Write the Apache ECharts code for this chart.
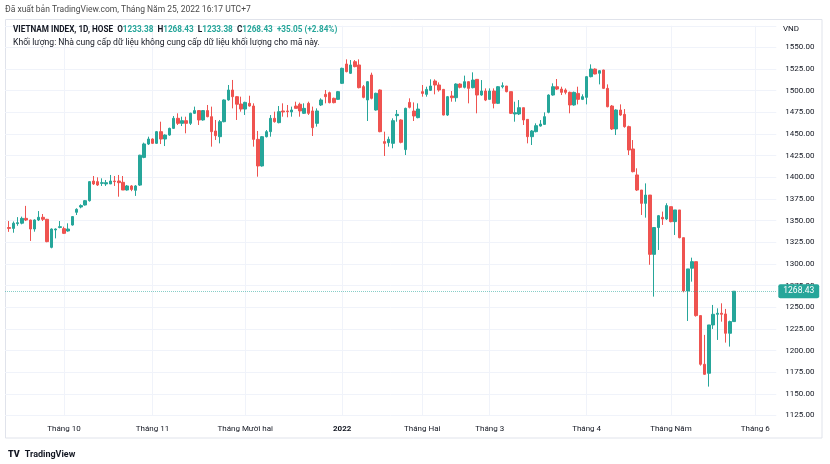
<!DOCTYPE html>
<html><head><meta charset="utf-8">
<script src="https://cdn.jsdelivr.net/npm/echarts@6/dist/echarts.min.js"></script>
<style>html,body{margin:0;padding:0;background:#fff;}#c{width:830px;height:464px;}</style>
</head><body><div id="c"></div>
<script>
// ---- trading days (categories) ----
const daysSep2021 = [14,15,16,17,20,21,22,23,24,27,28,29,30];
const daysOct2021 = [1,4,5,6,7,8,11,12,13,14,15,18,19,20,21,22,25,26,27,28,29];
const daysNov2021 = [1,2,3,4,5,8,9,10,11,12,15,16,17,18,19,22,23,24,25,26,29,30];
const daysDec2021 = [1,2,3,6,7,8,9,10,13,14,15,16,17,20,21,22,23,24,27,28,29,30,31];
const daysJan2022 = [4,5,6,7,10,11,12,13,14,17,18,19,20,21,24,25,26,27,28];
const daysFeb2022 = [7,8,9,10,11,14,15,16,17,18,21,22,23,24,25,28];
const daysMar2022 = [1,2,3,4,7,8,9,10,11,14,15,16,17,18,21,22,23,24,25,28,29,30,31];
const daysApr2022 = [1,4,5,6,7,8,12,13,14,15,18,19,20,21,22,25,26,27,28,29];
const daysMay2022 = [4,5,6,9,10,11,12,13,16,17,18,19,20,23,24,25];
const futureMay2022 = [26,27,30,31];
const futureJun2022 = [1,2,3,6,7,8];

// ---- OHLC values ----
const openP = [
1342.0,1341.0,1346.5,1347.0,1352.6,1350.7,1340.3,1350.7,1353.8,1351.5,1319.1,1339.2,1342.1,
1340.7,1338.0,1344.9,1359.6,1365.7,1368.0,1373.0,1395.7,1395.0,1393.0,1392.3,1392.3,1395.7,1395.7,1394.2,1385.3,1390.0,1385.0,1391.0,1423.0,1438.4,
1444.2,1439.2,1452.7,1444.2,1448.8,1456.5,1468.1,1462.3,1465.4,1462.3,1473.9,1477.0,1466.2,1477.0,1470.0,1453.5,1446.9,1464.2,1489.3,1500.8,1493.1,1484.6,
1478.8,1485.4,1482.3,1443.8,1413.1,1446.9,1452.7,1468.1,1463.1,1476.6,1476.6,1475.4,1482.3,1484.3,1473.9,1485.4,1476.6,1462.3,1483.5,1495.8,1497.7,1491.2,1490.0,
1508.5,1530.8,1520.1,1533.5,1529.7,1504.7,1489.3,1518.1,1477.7,1500.8,1441.2,1440.0,1439.2,1471.2,1466.2,1432.0,1486.5,1476.5,1468.9,
1498.9,1495.8,1500.4,1511.2,1506.6,1501.5,1471.9,1493.9,1491.9,1507.7,1503.9,1510.4,1503.5,1513.1,1495.0,1499.6,
1490.0,1499.6,1485.4,1504.6,1505.4,1498.9,1473.1,1473.1,1480.4,1466.9,1446.9,1452.7,1459.2,1461.1,1475.0,1495.0,1504.6,1501.9,1500.8,1498.1,1483.5,1496.9,1490.0,
1492.3,1516.2,1525.0,1520.1,1523.9,1502.7,1482.3,1455.8,1477.7,1472.7,1458.5,1432.7,1402.7,1385.3,1369.9,1379.5,1311.0,1342.0,1353.8,1351.9,
1366.1,1348.8,1362.3,1330.3,1268.7,1295.0,1302.6,1240.3,1184.1,1173.7,1229.5,1241.8,1243.0,1242.2,1219.9,1233.38
];
const closeP = [
1341.0,1347.0,1347.6,1352.6,1350.7,1340.3,1350.7,1353.8,1351.5,1325.7,1340.3,1340.3,1343.0,
1335.3,1340.3,1354.6,1363.0,1367.3,1373.0,1395.0,1392.3,1391.1,1393.8,1393.8,1395.7,1395.0,1393.8,1385.3,1390.0,1386.0,1390.0,1425.5,1438.5,1444.2,
1439.2,1452.7,1444.2,1448.8,1456.5,1468.1,1462.3,1465.4,1462.3,1473.9,1477.0,1466.2,1477.0,1470.0,1452.7,1448.1,1464.2,1489.3,1500.8,1493.1,1484.4,1478.8,
1486.5,1482.3,1443.8,1413.1,1446.9,1452.7,1468.1,1464.2,1475.8,1475.4,1475.8,1477.7,1479.6,1476.6,1479.6,1473.9,1457.3,1476.6,1489.3,1493.1,1486.2,1486.2,1498.9,
1525.8,1522.0,1529.7,1527.8,1503.5,1492.3,1510.4,1491.2,1497.0,1452.7,1439.2,1443.8,1465.4,1472.7,1440.4,1479.6,1480.8,1470.8,1478.8,
1496.9,1501.5,1505.4,1506.6,1500.8,1471.9,1493.1,1491.9,1507.7,1503.9,1510.4,1502.7,1512.3,1495.0,1499.6,1489.2,
1499.6,1485.4,1504.6,1505.8,1498.9,1473.9,1474.6,1480.4,1466.2,1446.9,1453.5,1459.6,1461.5,1470.0,1495.0,1504.6,1501.9,1498.1,1498.1,1483.5,1498.1,1490.0,1493.1,
1516.2,1525.0,1519.3,1523.1,1502.7,1481.5,1455.8,1477.7,1471.9,1458.5,1431.5,1406.5,1385.3,1369.9,1379.5,1311.0,1342.0,1355.7,1351.9,1367.3,
1348.8,1362.3,1330.3,1268.7,1294.2,1302.6,1240.3,1184.1,1172.5,1229.5,1241.8,1243.0,1241.8,1219.9,1233.38,1268.43
];
const lowP = [
1337.0,1336.0,1344.0,1345.7,1349.5,1326.5,1337.2,1349.5,1349.5,1325.0,1318.0,1329.5,1341.1,
1334.5,1337.2,1344.2,1356.5,1364.2,1367.3,1371.9,1391.1,1390.0,1390.0,1390.0,1392.3,1390.0,1377.6,1385.3,1384.6,1384.0,1378.5,1390.0,1422.0,1437.3,
1438.5,1438.5,1438.4,1436.1,1448.0,1455.8,1460.4,1459.2,1450.8,1460.4,1473.1,1460.4,1465.4,1469.3,1435.4,1443.1,1439.2,1463.5,1488.5,1479.6,1466.2,1475.8,
1472.0,1481.6,1435.4,1400.7,1412.3,1446.0,1446.9,1463.1,1462.3,1470.0,1469.3,1470.0,1479.6,1470.0,1473.1,1472.0,1447.7,1458.5,1482.3,1485.4,1485.4,1485.4,1489.3,
1507.7,1521.2,1519.3,1527.0,1502.7,1491.2,1465.0,1490.0,1477.0,1452.0,1424.6,1435.4,1433.5,1464.2,1439.2,1425.7,1479.6,1465.0,1468.1,
1493.1,1493.1,1499.6,1495.8,1498.9,1471.5,1470.8,1487.3,1487.3,1502.7,1502.7,1485.4,1502.7,1473.9,1494.2,1488.0,
1489.3,1479.6,1484.6,1502.7,1498.1,1473.1,1464.2,1471.9,1460.4,1439.2,1437.3,1451.9,1458.5,1460.4,1473.9,1494.2,1500.8,1495.0,1495.8,1473.9,1482.7,1484.2,1489.2,
1484.2,1515.4,1518.9,1507.3,1501.9,1480.8,1454.6,1448.8,1471.0,1457.3,1425.7,1405.7,1384.2,1356.5,1353.4,1299.0,1262.2,1316.1,1345.0,1350.7,
1348.0,1333.4,1329.6,1267.2,1234.1,1279.5,1239.1,1182.5,1172.0,1158.3,1224.9,1212.2,1233.3,1209.1,1204.5,1233.38
];
const highP = [
1349.5,1349.0,1354.0,1354.6,1367.0,1351.0,1351.5,1361.0,1357.6,1352.0,1341.0,1341.0,1349.5,
1343.0,1346.9,1355.3,1364.2,1368.8,1373.8,1395.5,1401.5,1400.0,1398.8,1396.9,1402.7,1401.5,1402.7,1401.5,1391.1,1391.0,1391.0,1426.0,1440.0,1446.9,
1445.0,1453.5,1464.2,1449.6,1457.3,1470.8,1473.9,1470.0,1470.0,1474.6,1481.6,1477.5,1477.7,1483.5,1481.6,1466.2,1466.2,1490.0,1506.6,1512.4,1493.9,1493.1,
1487.3,1494.2,1485.4,1453.5,1447.7,1454.6,1471.9,1475.8,1482.3,1485.4,1483.5,1481.6,1487.3,1486.2,1485.4,1487.3,1481.6,1479.6,1491.2,1500.8,1498.9,1492.0,1499.7,
1526.6,1536.2,1535.4,1535.4,1536.2,1506.6,1511.2,1520.8,1497.7,1501.5,1452.7,1447.0,1468.1,1477.7,1467.0,1480.4,1491.2,1486.5,1485.4,
1506.6,1504.6,1513.1,1513.1,1509.6,1502.0,1493.9,1499.6,1508.5,1508.5,1517.4,1510.8,1521.2,1513.5,1512.3,1502.7,
1502.7,1502.7,1505.4,1509.6,1505.4,1498.9,1487.3,1489.2,1480.4,1466.9,1454.6,1462.3,1466.1,1475.0,1495.8,1508.5,1513.5,1504.6,1502.7,1498.9,1498.9,1504.6,1495.8,
1516.9,1530.4,1525.8,1523.9,1524.2,1507.3,1483.5,1478.5,1484.2,1478.8,1459.6,1443.0,1410.4,1385.3,1393.0,1379.5,1342.0,1356.5,1360.4,1370.0,
1366.1,1362.3,1362.3,1330.3,1294.2,1307.2,1302.6,1240.3,1218.0,1229.5,1252.6,1248.7,1254.5,1248.0,1234.5,1268.43
];

// ---- axis tick labels ----
const tickMonths = ['2021-10','2021-11','2021-12','2022-01','2022-02','2022-03','2022-04','2022-05','2022-06'];
const tickLabels = ['Tháng 10','Tháng 11','Tháng Mười hai','2022','Tháng Hai','Tháng 3','Tháng 4','Tháng Năm','Tháng 6'];
const priceTicks = {min: 1125, max: 1575, step: 25};

// ---- build categories ----
function ds(ym, days){ return days.map(d => ym + '-' + String(d).padStart(2,'0')); }
const dates = [''].concat(
  ds('2021-09', daysSep2021), ds('2021-10', daysOct2021), ds('2021-11', daysNov2021), ds('2021-12', daysDec2021),
  ds('2022-01', daysJan2022), ds('2022-02', daysFeb2022), ds('2022-03', daysMar2022), ds('2022-04', daysApr2022),
  ds('2022-05', daysMay2022), ds('2022-05', futureMay2022), ds('2022-06', futureJun2022)
);
const nReal = openP.length;
const candles = dates.map((d, i) => (i >= 1 && i <= nReal)
  ? [openP[i-1], closeP[i-1], lowP[i-1], highP[i-1]] : ['-','-','-','-']);

const tickAt = {};
for (let i = 2; i < dates.length; i++) {
  const m = dates[i].slice(0, 7);
  if (m !== dates[i-1].slice(0, 7)) {
    const k = tickMonths.indexOf(m);
    if (k >= 0) tickAt[i] = tickLabels[k];
  }
}

const UP = '#26a69a', DOWN = '#ef5350', TXT = '#131722';
const FONT = 'Roboto';
const lastO = openP[nReal-1], lastH = highP[nReal-1], lastL = lowP[nReal-1], lastC = closeP[nReal-1];
const prevC = closeP[nReal-2];
const chg = lastC - prevC, pct = chg / prevC * 100;
const sgn = v => (v >= 0 ? '+' : '') + v.toFixed(2);

const chart = echarts.init(document.getElementById('c'), null, {renderer: 'canvas'});
chart.setOption({
  animation: false,
  backgroundColor: '#ffffff',
  title: [
    {text: 'Đã xuất bản TradingView.com, Tháng Năm 25, 2022 16:17 UTC+7', left: 5, top: 4, padding: 0,
     textStyle: {fontSize: 8.5, fontWeight: 'normal', color: '#4a4a4a', fontFamily: FONT, lineHeight: 12}},
    {text: '{d|VIETNAM INDEX, 1D, HOSE  O}{u|' + lastO.toFixed(2) + '}{d|  H}{u|' + lastH.toFixed(2) +
           '}{d|  L}{u|' + lastL.toFixed(2) + '}{d|  C}{u|' + lastC.toFixed(2) + '}{u|  ' + sgn(chg) + ' (' + sgn(pct) + '%)}',
     left: 13, top: 24, padding: 0,
     textStyle: {rich: {
       d: {fontSize: 8.2, color: TXT, fontFamily: FONT, lineHeight: 12},
       u: {fontSize: 8.2, color: UP, fontFamily: FONT, lineHeight: 12}}}},
    {text: 'Khối lượng: Nhà cung cấp dữ liệu không cung cấp dữ liệu khối lượng cho mã này.', left: 13, top: 36.5, padding: 0,
     textStyle: {fontSize: 8.6, fontWeight: 'normal', color: TXT, fontFamily: FONT, lineHeight: 12}},
    {text: 'VND', left: 783, top: 23, padding: 0,
     textStyle: {fontSize: 8, fontWeight: 'normal', color: TXT, fontFamily: FONT, lineHeight: 12}},
    {text: '{l|TV} {t|TradingView}', left: 8, top: 446, padding: 0,
     textStyle: {rich: {
       l: {fontSize: 9, fontWeight: 900, color: TXT, fontFamily: FONT, lineHeight: 12},
       t: {fontSize: 9, color: TXT, fontFamily: FONT, lineHeight: 12}}}}
  ],
  graphic: [
    {type: 'rect', z: -10, silent: true,
     shape: {x: 5.5, y: 19.5, width: 816.5, height: 418.5},
     style: {fill: 'none', stroke: '#e0e3eb', lineWidth: 1}}
  ],
  grid: {left: 5, right: 53.7, top: 25.75, bottom: 48.55, containLabel: false},
  xAxis: {
    type: 'category', data: dates, boundaryGap: false,
    axisLine: {show: false}, axisTick: {show: false},
    axisLabel: {
      interval: (i) => (i in tickAt), margin: 10,
      formatter: (v, i) => tickAt[i] === '2022' ? '{y|2022}' : (tickAt[i] || ''),
      color: TXT, fontSize: 8, fontFamily: FONT,
      rich: {y: {fontWeight: 'bold', fontSize: 8, color: TXT, fontFamily: FONT}}
    },
    splitLine: {show: true, interval: (i) => (i in tickAt), lineStyle: {color: '#f0f3fa', width: 1}}
  },
  yAxis: {
    type: 'value', position: 'right', scale: true,
    min: priceTicks.min, max: priceTicks.max, interval: priceTicks.step,
    axisLine: {show: false}, axisTick: {show: false},
    axisLabel: {showMaxLabel: false, margin: 9, color: TXT, fontSize: 8, fontFamily: FONT,
                formatter: v => v.toFixed(2)},
    splitLine: {show: true, lineStyle: {color: '#f0f3fa', width: 1}}
  },
  series: [{
    type: 'candlestick', data: candles, barWidth: 3,
    itemStyle: {color: UP, color0: DOWN, borderColor: UP, borderColor0: DOWN, borderWidth: 1},
    markLine: {
      silent: true, symbol: ['none', 'none'], animation: false,
      data: [{yAxis: lastC}],
      lineStyle: {color: 'rgba(38,166,154,0.55)', type: [1, 1], width: 1, opacity: 1},
      label: {position: 'end', distance: 2, formatter: () => lastC.toFixed(2),
              color: '#ffffff', backgroundColor: UP, padding: [3, 5, 2, 5], borderRadius: 2,
              fontSize: 8.5, fontFamily: FONT, opacity: 1}
    }
  }]
});
</script></body></html>
